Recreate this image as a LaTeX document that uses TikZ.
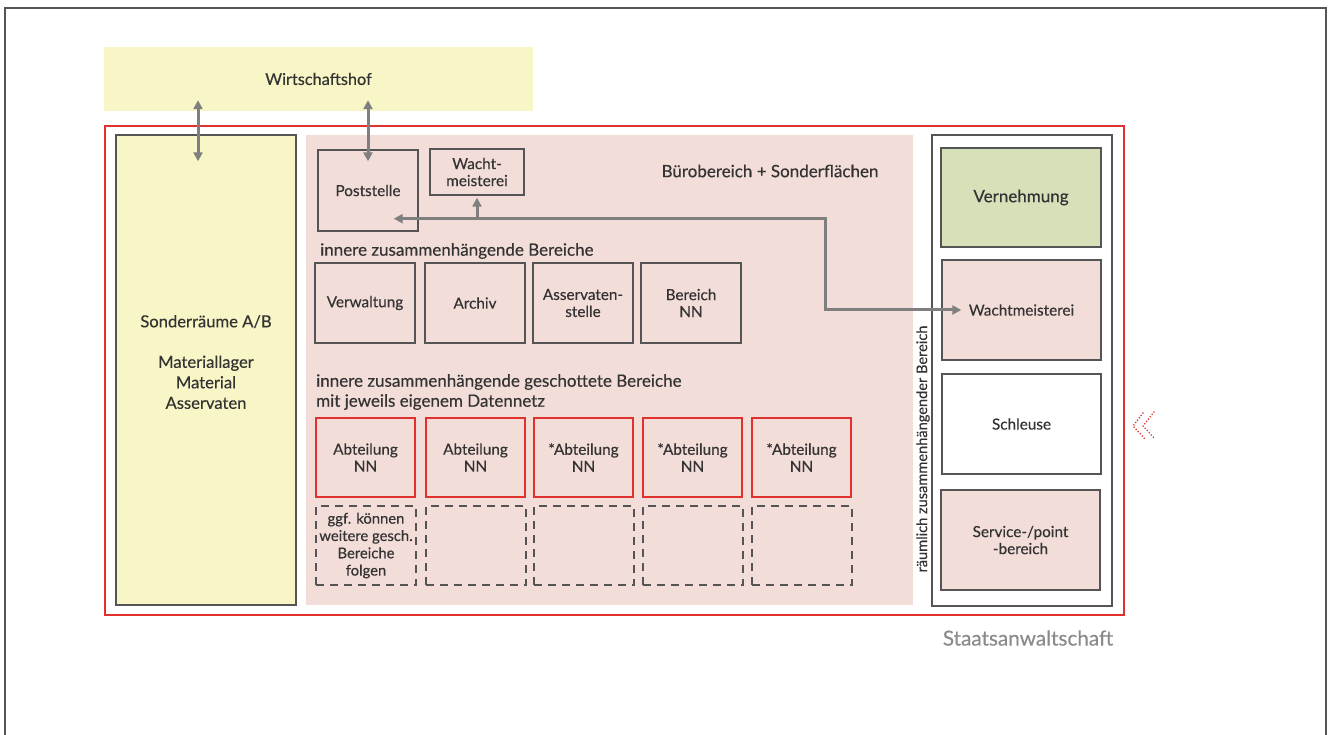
\documentclass[tikz,border=0pt]{standalone}
\usepackage{fontspec}
\setmainfont{Lato}[UprightFeatures={FakeBold=0.35}]
\usetikzlibrary{arrows.meta,calc}
\definecolor{yel}{HTML}{F8F6C6}
\definecolor{pinkf}{HTML}{F3DDD9}
\definecolor{greenf}{HTML}{D6E0B9}
\definecolor{bgray}{HTML}{555555}
\definecolor{agray}{HTML}{7F7F7F}
\definecolor{redl}{HTML}{E0312E}
\definecolor{txt}{HTML}{333333}
\definecolor{ltxt}{HTML}{8A8A8A}
\begin{document}
\begin{tikzpicture}[x=1pt,y=-1pt,
  every node/.style={text=txt, inner sep=0pt, align=center},
  lbl/.style={font=\fontsize{15.3}{17}\selectfont},
  hdr/.style={font=\fontsize{17}{20}\selectfont},
  graybox/.style={draw=bgray, line width=1.4pt, lbl},
  redbox/.style={draw=redl, line width=2.3pt, fill=pinkf, lbl, minimum width=99pt, minimum height=79pt},
  dashbox/.style={draw=bgray, line width=1.4pt, dash pattern=on 8pt off 6pt, minimum width=100pt, minimum height=79pt, font=\fontsize{14.8}{17.3}\selectfont},
  rowbox/.style={graybox, fill=pinkf, minimum width=100pt, minimum height=80pt},
  sidebox/.style={graybox, minimum width=159pt, minimum height=100pt},
  arr/.style={draw=agray, line width=3pt, -{Triangle[length=9pt,width=9pt]}},
  dbl/.style={draw=agray, line width=3pt, {Triangle[length=9pt,width=9pt]}-{Triangle[length=9pt,width=9pt]}},
  chev/.style={draw=redl, line width=1.8pt, line cap=round, dash pattern=on 0pt off 3pt}
]
\useasboundingbox (0,0) rectangle (1328,735);
% outer frame (open at bottom)
\draw[draw=bgray, line width=2pt] (5,740) -- (5,8) -- (1326,8) -- (1326,740);

% Wirtschaftshof
\node[fill=yel, minimum width=429pt, minimum height=64pt, font=\fontsize{16.3}{20}\selectfont] (wh) at (318.5,79) {Wirtschaftshof};

% red frame
\node[draw=redl, line width=2.3pt, minimum width=1019pt, minimum height=489pt] (rf) at (614.5,370.5) {};

% Sonderraeume
\node[graybox, fill=yel, minimum width=180pt, minimum height=470pt] (sonder) at (206,370) {};
\node[font=\fontsize{16.6}{20.5}\selectfont] (sonderlbl) at (206,362) {Sonderräume A/B\\[20pt]Materiallager\\Material\\Asservaten};

% pink office area
\node[fill=pinkf, minimum width=607pt, minimum height=470pt] (buero) at (609.5,370) {};
\node[hdr] (buerolbl) at (770,171) {Bürobereich + Sonderflächen};

\node[graybox, minimum width=100pt, minimum height=81pt] (post) at (368,190.5) {Poststelle};
\node[graybox, minimum width=94pt, minimum height=46pt] (wms) at (477,172) {Wacht-\\meisterei};

\node[hdr, anchor=west] (inner1) at (320,251) {innere zusammenhängende Bereiche};
\node[rowbox] (verw) at (365,303) {Verwaltung};
\node[rowbox] (arch) at (475,303) {Archiv};
\node[rowbox] (asst) at (583,303) {Asservaten-\\stelle};
\node[rowbox] (bnn) at (691,303) {Bereich\\NN};

\node[hdr, anchor=north west, align=left] (inner2) at (316,374) {innere zusammenhängende geschottete Bereiche\\mit jeweils eigenem Datennetz};
\node[redbox] (ab1) at (365.5,457.5) {Abteilung\\NN};
\node[redbox] (ab2) at (475.5,457.5) {Abteilung\\NN};
\node[redbox] (ab3) at (583.5,457.5) {*Abteilung\\NN};
\node[redbox] (ab4) at (692.5,457.5) {*Abteilung\\NN};
\node[redbox] (ab5) at (801.5,457.5) {*Abteilung\\NN};

\node[dashbox] (d1) at (366,545.5) {ggf. können\\weitere gesch.\\Bereiche\\folgen};
\node[dashbox] (d2) at (476,545.5) {};
\node[dashbox] (d3) at (584,545.5) {};
\node[dashbox] (d4) at (693,545.5) {};
\node[dashbox] (d5) at (802,545.5) {};

% right column
\node[graybox, fill=white, minimum width=180pt, minimum height=471pt] (rcol) at (1022,370.5) {};
\node[sidebox, fill=greenf, minimum width=160pt, minimum height=99pt, hdr] (vern) at (1021,197.5) {Vernehmung};
\node[sidebox, fill=pinkf] (wmr) at (1021.5,310) {\hspace*{0pt}Wachtmeisterei};
\node[sidebox, fill=white] (schl) at (1021.5,424) {Schleuse};
\node[sidebox, fill=pinkf] (serv) at (1020.5,540) {Service-/point\\-bereich};
\node[rotate=90, font=\fontsize{14.6}{16}\selectfont] (rlbl) at (923,449) {räumlich zusammenhängender Bereich};

\node[text=ltxt, font=\fontsize{20.7}{24}\selectfont] (staats) at (1028,638) {Staatsanwaltschaft};

% chevrons
\draw[chev] (1143,413) -- (1133,426) -- (1145,439);
\draw[chev] (1154,412) -- (1143,426) -- (1155,439);

% connectors
\coordinate (bx) at (825,0);
\draw[dbl] ([xshift=-8pt,yshift=11pt]wh.south -| sonder.north) -- ([xshift=-8pt,yshift=-27pt]sonder.north);
\draw[dbl] ([yshift=11pt]wh.south -| post.north) -- ([yshift=-12pt]post.north);
\coordinate (ptip) at ([xshift=-25pt,yshift=13pt]post.south east);
\coordinate (wtip) at ([xshift=20pt]wmr.west);
\draw[dbl] (ptip) -- (ptip -| bx) -- (bx |- wtip) -- (wtip);
\draw[arr] (ptip -| wms.south) -- ([yshift=-2pt]wms.south);
\end{tikzpicture}
\end{document}
